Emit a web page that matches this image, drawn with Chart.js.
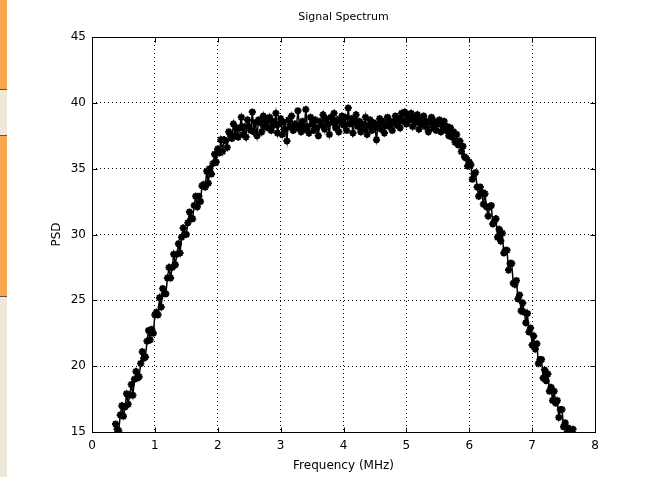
<!DOCTYPE html>
<html><head><meta charset="utf-8">
<script src="https://cdn.jsdelivr.net/npm/chart.js@4/dist/chart.umd.min.js"></script>
<style>
html,body{margin:0;padding:0;background:#fff;}
#wrap{position:relative;width:653px;height:477px;overflow:hidden;background:#fff;}
#c{position:absolute;left:0;top:0;}
.strip{position:absolute;left:0;width:7px;}
</style></head><body>
<div id="wrap">
<canvas id="c" width="653" height="477"></canvas>
<div class="strip" style="top:0;height:89px;background:#f9a54e"></div>
<div class="strip" style="top:89px;height:1px;background:#555"></div>
<div class="strip" style="top:90px;height:45px;background:#ece8da"></div>
<div class="strip" style="top:135px;height:1px;background:#555"></div>
<div class="strip" style="top:136px;height:160px;background:#f9a54e"></div>
<div class="strip" style="top:296px;height:1px;background:#555"></div>
<div class="strip" style="top:297px;height:180px;background:#ece8da"></div>
</div>
<script>
const chartTitle = "Signal Spectrum";
const xTitle = "Frequency (MHz)";
const yTitle = "PSD";
const xTicks = [0,1,2,3,4,5,6,7,8];
const yTicks = [15,20,25,30,35,40,45];

const freq = [
0.375,0.400,0.425,0.450,0.475,0.500,0.525,0.550,0.575,0.600,0.625,0.650,0.675,0.700,0.725,0.750,0.775,0.800,0.825,0.850,
0.875,0.900,0.925,0.950,0.975,1.000,1.025,1.050,1.075,1.100,1.125,1.150,1.175,1.200,1.225,1.250,1.275,1.300,1.325,1.350,
1.375,1.400,1.425,1.450,1.475,1.500,1.525,1.550,1.575,1.600,1.625,1.650,1.675,1.700,1.725,1.750,1.775,1.800,1.825,1.850,
1.875,1.900,1.925,1.950,1.975,2.000,2.025,2.050,2.075,2.100,2.125,2.150,2.175,2.200,2.225,2.250,2.275,2.300,2.325,2.350,
2.375,2.400,2.425,2.450,2.475,2.500,2.525,2.550,2.575,2.600,2.625,2.650,2.675,2.700,2.725,2.750,2.775,2.800,2.825,2.850,
2.875,2.900,2.925,2.950,2.975,3.000,3.025,3.050,3.075,3.100,3.125,3.150,3.175,3.200,3.225,3.250,3.275,3.300,3.325,3.350,
3.375,3.400,3.425,3.450,3.475,3.500,3.525,3.550,3.575,3.600,3.625,3.650,3.675,3.700,3.725,3.750,3.775,3.800,3.825,3.850,
3.875,3.900,3.925,3.950,3.975,4.000,4.025,4.050,4.075,4.100,4.125,4.150,4.175,4.200,4.225,4.250,4.275,4.300,4.325,4.350,
4.375,4.400,4.425,4.450,4.475,4.500,4.525,4.550,4.575,4.600,4.625,4.650,4.675,4.700,4.725,4.750,4.775,4.800,4.825,4.850,
4.875,4.900,4.925,4.950,4.975,5.000,5.025,5.050,5.075,5.100,5.125,5.150,5.175,5.200,5.225,5.250,5.275,5.300,5.325,5.350,
5.375,5.400,5.425,5.450,5.475,5.500,5.525,5.550,5.575,5.600,5.625,5.650,5.675,5.700,5.725,5.750,5.775,5.800,5.825,5.850,
5.875,5.900,5.925,5.950,5.975,6.000,6.025,6.050,6.075,6.100,6.125,6.150,6.175,6.200,6.225,6.250,6.275,6.300,6.325,6.350,
6.375,6.400,6.425,6.450,6.475,6.500,6.525,6.550,6.575,6.600,6.625,6.650,6.675,6.700,6.725,6.750,6.775,6.800,6.825,6.850,
6.875,6.900,6.925,6.950,6.975,7.000,7.025,7.050,7.075,7.100,7.125,7.150,7.175,7.200,7.225,7.250,7.275,7.300,7.325,7.350,
7.375,7.400,7.425,7.450,7.475,7.500,7.525,7.550,7.575,7.600,7.625,7.650
];

const psd = [
15.6,15.2,15.1,16.3,17.0,16.2,16.9,17.9,17.1,17.8,18.6,17.8,19.0,19.6,19.1,19.2,20.2,21.1,20.6,20.7,
21.9,22.7,22.0,22.8,22.5,23.9,24.1,23.9,25.2,24.5,25.9,25.5,25.5,26.7,27.5,26.7,27.5,28.5,27.7,28.5,
29.3,28.6,29.8,30.5,30.0,30.0,30.9,31.7,31.2,31.2,32.2,32.9,32.1,32.9,32.5,33.7,33.8,33.6,34.8,33.9,
35.0,34.6,35.4,36.1,35.5,36.5,36.2,37.2,36.3,37.2,37.1,36.6,37.8,37.6,37.3,38.4,37.5,38.1,37.4,38.1,
38.9,37.6,38.2,37.4,38.7,38.2,37.9,39.3,37.8,38.5,37.5,38.7,38.5,37.8,39.0,38.2,38.7,38.1,38.9,37.9,
38.6,38.3,39.2,37.7,38.4,38.8,37.6,38.5,38.0,37.1,38.7,38.2,39.0,37.9,38.4,38.1,39.4,38.3,37.8,38.6,
38.0,39.5,38.2,37.7,38.9,38.4,37.9,38.7,38.1,37.5,38.6,38.3,39.1,38.0,38.8,38.4,37.6,38.9,38.5,39.2,
38.1,38.7,37.8,38.6,39.0,38.3,38.9,37.9,39.6,38.4,38.8,37.7,38.5,39.1,38.2,38.6,37.8,38.4,38.0,38.9,
37.6,38.3,38.7,37.9,38.5,38.1,37.2,38.4,38.8,38.0,38.6,37.7,38.3,38.9,38.2,38.6,37.9,38.5,39.0,38.3,
38.8,38.1,39.2,38.6,39.3,38.4,39.1,38.7,39.2,38.2,38.9,38.5,39.1,38.0,38.7,38.4,39.0,38.2,38.6,37.8,
38.5,38.9,38.1,38.6,37.9,38.4,38.7,37.8,38.3,38.6,37.9,38.2,37.5,38.1,37.4,37.8,37.0,37.6,36.8,37.1,
36.3,36.7,35.9,35.8,35.2,35.5,35.3,34.2,34.6,34.7,33.6,32.9,33.6,33.2,32.3,33.1,32.1,31.4,32.1,32.2,
30.8,31.0,31.2,29.8,30.4,29.5,30.1,28.6,28.8,28.8,27.3,27.8,27.8,26.3,26.2,26.5,25.1,25.4,24.2,24.8,
24.1,23.3,24.0,22.6,22.9,21.6,22.3,21.3,21.7,20.2,20.5,20.5,19.1,19.7,18.9,19.4,18.1,18.4,17.4,18.1,
17.2,17.4,16.1,16.7,16.7,15.4,15.7,14.9,15.3,14.9,14.6,15.2
];

const FONT = "'DejaVu Sans', 'Liberation Sans', Arial, sans-serif";

const boxPlugin = {
  id: 'matlabBox',
  afterDatasetsDraw(chart) {
    const {ctx, chartArea, scales} = chart;
    const L = Math.round(chartArea.left) + 0.5, R = Math.round(chartArea.right) + 0.5;
    const T = Math.round(chartArea.top) + 0.5, B = Math.round(chartArea.bottom) + 0.5;
    ctx.save();
    ctx.strokeStyle = '#000';
    ctx.lineWidth = 1;
    ctx.beginPath();
    xTicks.forEach(v => {
      const px = Math.round(scales.x.getPixelForValue(v)) + 0.5;
      ctx.moveTo(px, B); ctx.lineTo(px, B - 5);
      ctx.moveTo(px, T); ctx.lineTo(px, T + 5);
    });
    yTicks.forEach(v => {
      const py = Math.round(scales.y.getPixelForValue(v)) + 0.5;
      ctx.moveTo(L, py); ctx.lineTo(L + 5, py);
      ctx.moveTo(R, py); ctx.lineTo(R - 5, py);
    });
    ctx.stroke();
    ctx.strokeRect(L, T, R - L, B - T);
    ctx.restore();
  }
};

new Chart(document.getElementById('c'), {
  type: 'line',
  data: {
    datasets: [{
      data: freq.map((f, i) => ({x: f, y: psd[i]})),
      borderColor: '#000',
      backgroundColor: '#000',
      borderWidth: 1.5,
      pointStyle: 'star',
      pointRadius: 3.6,
      pointBorderWidth: 2,
      pointBorderColor: '#000',
      pointBackgroundColor: '#000',
      tension: 0,
      fill: false
    }]
  },
  options: {
    responsive: false,
    animation: false,
    events: [],
    layout: {padding: {left: 0, right: 58, top: 0, bottom: 0}},
    plugins: {
      legend: {display: false},
      tooltip: {enabled: false},
      title: {
        display: true,
        text: chartTitle,
        fullSize: false,
        color: '#000',
        font: {family: FONT, size: 11, weight: 'normal'},
        padding: {top: 11, bottom: 12.8}
      }
    },
    scales: {
      x: {
        type: 'linear',
        min: 0, max: 8,
        afterFit(s) { s.height = 45; },
        afterBuildTicks(s) { s.ticks = xTicks.map(v => ({value: v})); },
        ticks: {color: '#000', padding: 7, font: {family: FONT, size: 12}, maxRotation: 0},
        grid: {color: '#000', lineWidth: 1, drawTicks: false},
        border: {display: false, dash: [1, 3]},
        title: {display: true, text: xTitle, color: '#000', font: {family: FONT, size: 12}, padding: {top: 0, bottom: 4}}
      },
      y: {
        type: 'linear',
        min: 15, max: 45,
        afterFit(s) { s.width = 92; },
        afterBuildTicks(s) { s.ticks = yTicks.map(v => ({value: v})); },
        ticks: {color: '#000', padding: 6, font: {family: FONT, size: 12}},
        grid: {color: '#000', lineWidth: 1, drawTicks: false},
        border: {display: false, dash: [1, 3]},
        title: {display: true, text: yTitle, color: '#000', font: {family: FONT, size: 12}, padding: {top: 50, bottom: 0}}
      }
    }
  },
  plugins: [boxPlugin]
});
</script>
</body></html>
